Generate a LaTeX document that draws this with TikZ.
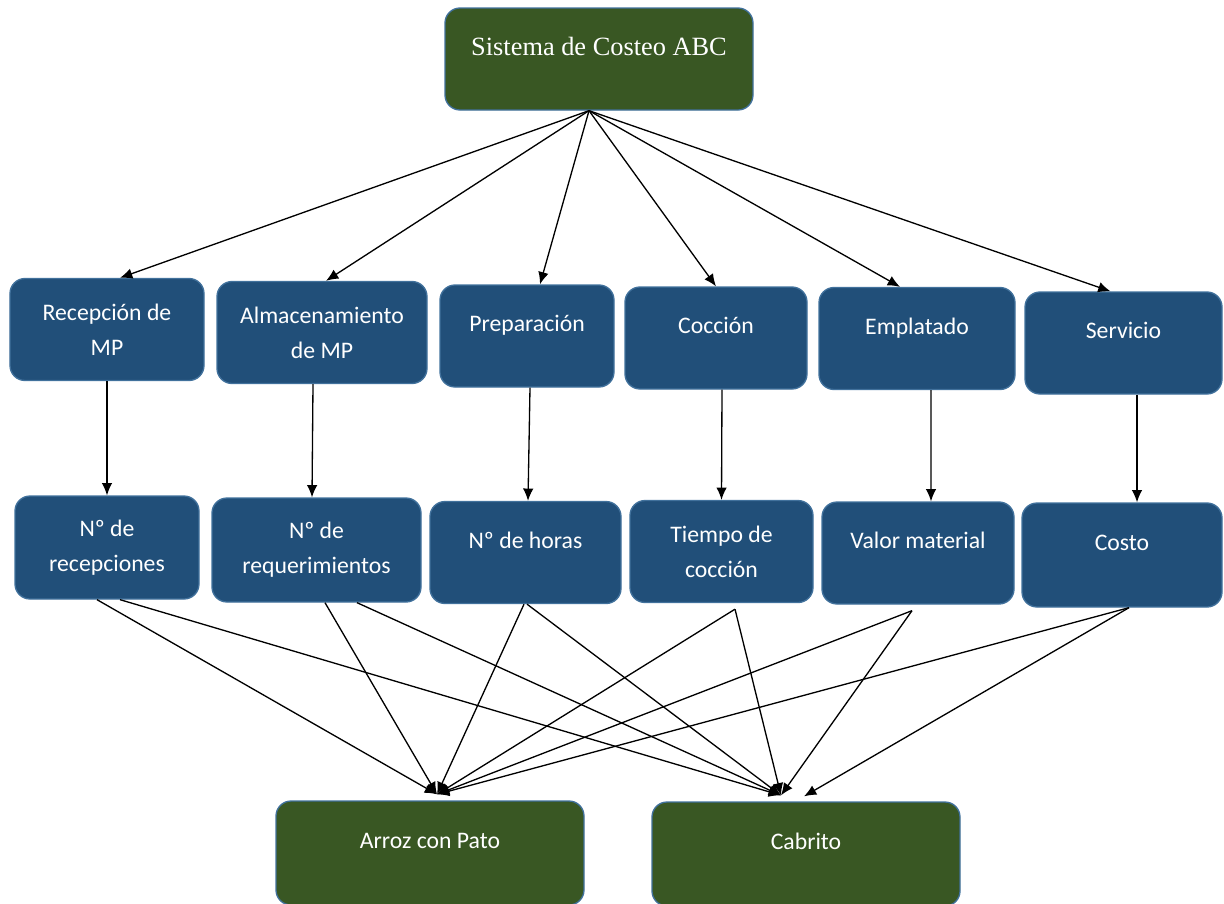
\documentclass[tikz,border=0pt]{standalone}
\usepackage{fontspec}
\setmainfont{Carlito}
\newfontfamily\serifabc{Liberation Serif}
\usetikzlibrary{arrows.meta, positioning}
\definecolor{boxblue}{RGB}{33,79,121}
\definecolor{boxgreen}{RGB}{57,87,35}
\definecolor{edgeblue}{RGB}{65,113,156}
\tikzstyle{block}=[draw=edgeblue,fill=boxblue,rectangle,rounded corners=0.3cm,text=white,align=center,minimum height=2.04cm,inner sep=0pt]
\tikzstyle{dish}=[block,fill=boxgreen]
\tikzstyle{oneline}=[text depth=0.5cm]
\tikzstyle{every node}=[font=\fontsize{13.5}{20}\selectfont]

\begin{document}
\begin{tikzpicture}[auto,>={Latex[length=7pt,width=6pt]},line width=0.75pt]
  \useasboundingbox (0,0) rectangle (24.48,-18.06);
  \node[dish, oneline, minimum width=6.16cm, font=\serifabc\fontsize{15}{18}\selectfont] (abc) at (11.98,-1.18) {Sistema de Costeo ABC};
  % actividades
  \node[block, minimum width=3.88cm] (recep) at (2.14,-6.59) {Recepción de\\MP};
  \node[block, minimum width=4.2cm] (almac) at (6.44,-6.65) {Almacenamiento\\de MP};
  \node[block, oneline, minimum width=3.48cm] (prep) at (10.54,-6.72) {Preparación};
  \node[block, oneline, minimum width=3.64cm] (cocc) at (14.32,-6.76) {Cocción};
  \node[block, oneline, minimum width=3.92cm] (empl) at (18.34,-6.77) {Emplatado};
  \node[block, oneline, minimum width=3.94cm] (serv) at (22.47,-6.86) {Servicio};
  % inductores
  \node[block, minimum width=3.68cm, minimum height=2.06cm] (nrecep) at (2.14,-10.95) {Nº de\\recepciones};
  \node[block, minimum width=4.18cm, minimum height=2.08cm] (nreq) at (6.33,-11.0) {Nº de\\requerimientos};
  \node[block, oneline, minimum width=3.82cm] (nhoras) at (10.51,-11.05) {Nº de horas};
  \node[block, minimum width=3.66cm] (tiempo) at (14.43,-11.03) {Tiempo de\\cocción};
  \node[block, oneline, minimum width=3.84cm] (valor) at (18.36,-11.06) {Valor material};
  \node[block, oneline, minimum width=4.0cm, minimum height=2.08cm] (costo) at (22.44,-11.1) {Costo};
  % platos
  \node[dish, oneline, minimum width=6.16cm, minimum height=2.08cm] (arroz) at (8.6,-17.06) {Arroz con Pato};
  \node[dish, oneline, minimum width=6.16cm, minimum height=2.08cm] (cabrito) at (16.12,-17.08) {Cabrito};
  \coordinate (src) at ([xshift=-0.2cm]abc.south);
  \coordinate (ta) at ([xshift=0.14cm,yshift=0.12cm]arroz.north);
  \coordinate (tc) at ([xshift=-0.5cm,yshift=0.12cm]cabrito.north);
  \coordinate (tc2) at ([xshift=-0.04cm,yshift=0.1cm]cabrito.north);

  \draw[->] (src) -- ([xshift=0.26cm]recep.north);
  \draw[->] (src) -- ([xshift=0.08cm]almac.north);
  \draw[->] (src) -- ([xshift=0.26cm]prep.north);
  \draw[->] (src) -- (cocc.north);
  \draw[->] (src) -- ([xshift=-0.34cm]empl.north);
  \draw[->] (src) -- ([xshift=-0.26cm]serv.north);

  \draw[->] (recep) -- (nrecep);
  \draw[->] ([xshift=-0.18cm]almac.south) -- ([xshift=-0.09cm]nreq.north);
  \draw[->] ([xshift=0.06cm]prep.south) -- ([xshift=0.05cm]nhoras.north);
  \draw[->] ([xshift=0.12cm]cocc.south) -- (tiempo.north);
  \draw[->] ([xshift=0.28cm]empl.south) -- ([xshift=0.26cm]valor.north);
  \draw[->] ([xshift=0.27cm]serv.south) -- ([xshift=0.3cm]costo.north);

  \draw[->] ([xshift=-0.2cm]nrecep.south) -- (ta);
  \draw[->] ([xshift=0.26cm]nrecep.south) -- (tc);
  \draw[->] ([xshift=0.17cm]nreq.south) -- (ta);
  \draw[->] ([xshift=0.81cm]nreq.south) -- (tc);
  \draw[->] ([xshift=-0.03cm]nhoras.south) -- (ta);
  \draw[->] ([xshift=0.03cm]nhoras.south) -- (tc);
  \draw[->] ([xshift=0.27cm,yshift=-0.12cm]tiempo.south) -- (ta);
  \draw[->] ([xshift=0.27cm,yshift=-0.12cm]tiempo.south) -- (tc);
  \draw[->] ([xshift=-0.12cm,yshift=-0.12cm]valor.south) -- (ta);
  \draw[->] ([xshift=-0.12cm,yshift=-0.12cm]valor.south) -- (tc);
  \draw[->] ([xshift=0.14cm]costo.south) -- (ta);
  \draw[->] ([xshift=0.14cm]costo.south) -- (tc2);
\end{tikzpicture}
\end{document}
